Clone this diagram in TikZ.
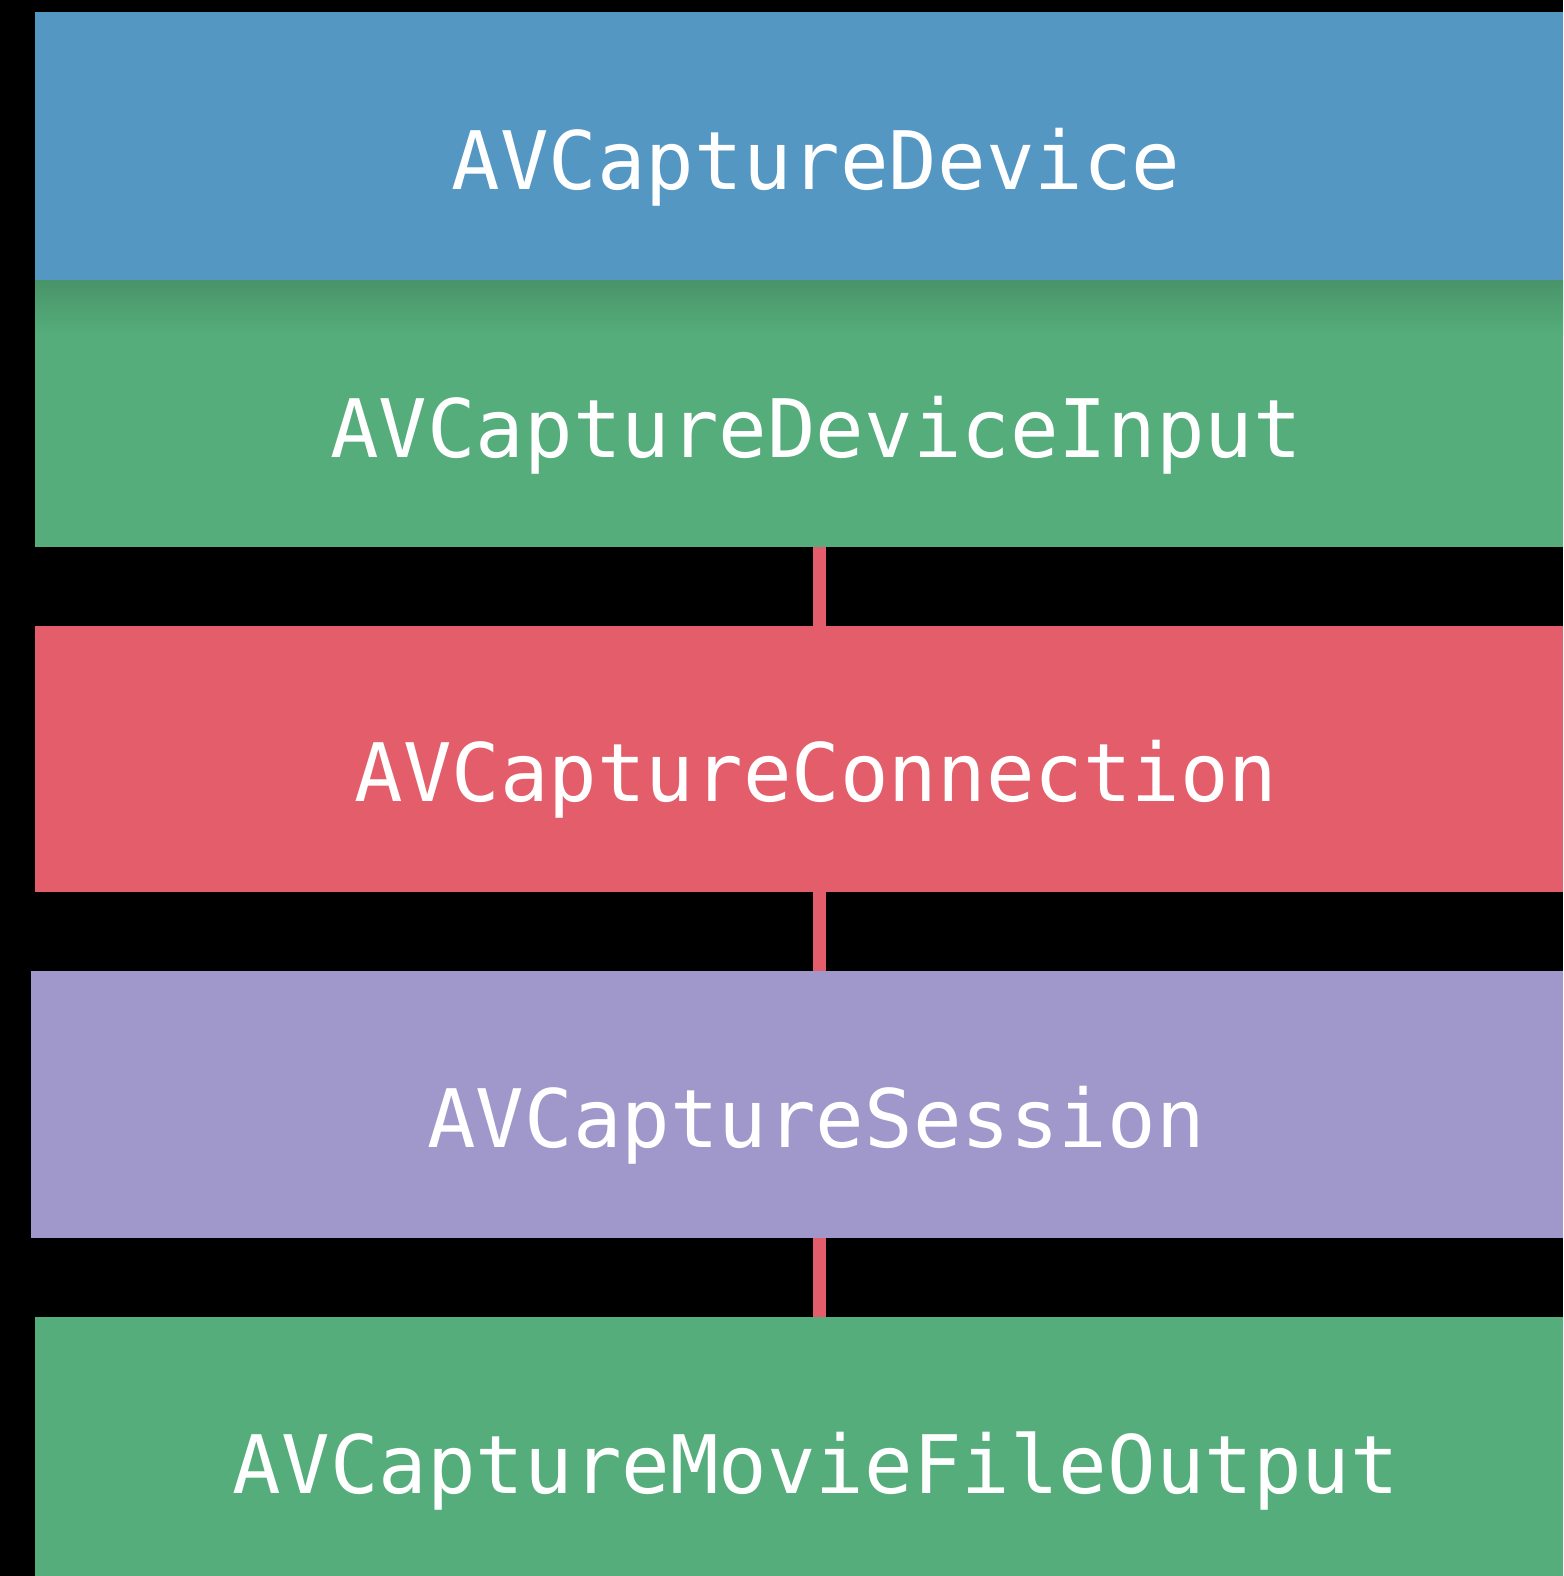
\documentclass[tikz,border=0pt]{standalone}
\usepackage{fontspec}
\newfontfamily\monofam{DejaVu Sans Mono}
\definecolor{cblue}{RGB}{83,151,194}
\definecolor{cgreen}{RGB}{85,173,123}
\definecolor{cgreendark}{RGB}{73,148,105}
\definecolor{cred}{RGB}{227,94,106}
\definecolor{cpurple}{RGB}{160,151,203}
\begin{document}
\begin{tikzpicture}[x=1pt,y=-1pt,
  layer/.style={rectangle,inner sep=0pt,outer sep=0pt,draw=none},
  lbl/.style={inner sep=0pt,anchor=base,text=white,font=\monofam\fontsize{80.7}{96}\selectfont},
  link/.style={draw=cred,line width=13pt}]
\fill[black] (0,0) rectangle (1563,1576);
\useasboundingbox (0,0) rectangle (1563,1576);
\node[layer,fill=cblue,minimum width=1528pt,minimum height=268pt] (b1) at (799,146) {};
\node[layer,fill=cgreen,minimum width=1528pt,minimum height=267pt] (b2) at (799,413.5) {};
\shade[top color=cgreendark,bottom color=cgreen] (35,280) rectangle (1563,335);
\node[layer,fill=cred,minimum width=1528pt,minimum height=266pt] (b3) at (799,759) {};
\node[layer,fill=cpurple,minimum width=1532pt,minimum height=267pt] (b4) at (797,1104.5) {};
\node[layer,fill=cgreen,minimum width=1528pt,minimum height=259pt] (b5) at (799,1446.5) {};
\coordinate (cx) at (819.5,0);
\draw[link] (b2.south -| cx) -- (b3.north -| cx);
\draw[link] (b3.south -| cx) -- (b4.north -| cx);
\draw[link] (b4.south -| cx) -- (b5.north -| cx);
\node[lbl] (t1) at (816,189) {AVCaptureDevice};
\node[lbl] (t2) at (816,457) {AVCaptureDeviceInput};
\node[lbl] (t3) at (816,801) {AVCaptureConnection};
\node[lbl] (t4) at (816,1147) {AVCaptureSession};
\node[lbl] (t5) at (816,1493) {AVCaptureMovieFileOutput};
\end{tikzpicture}
\end{document}
